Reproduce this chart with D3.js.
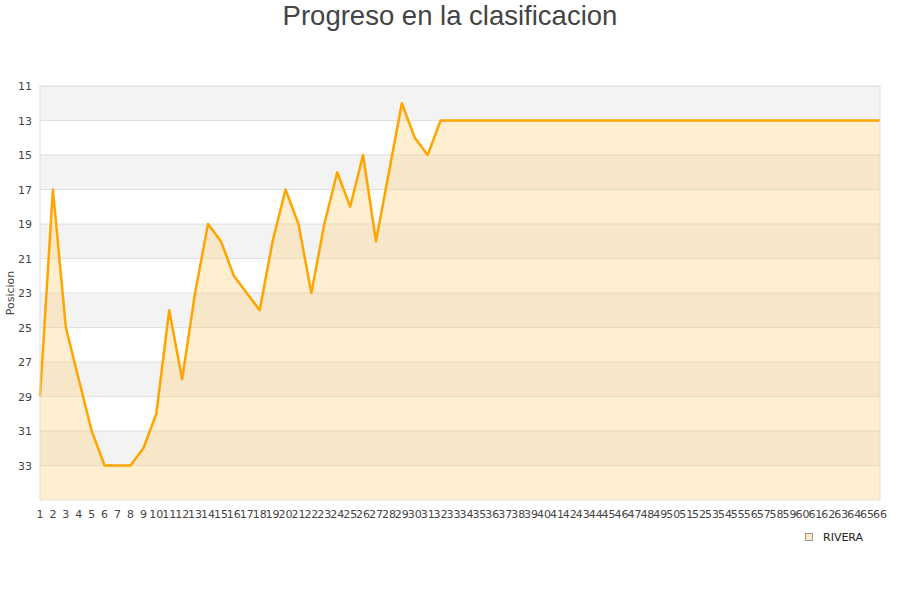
<!DOCTYPE html>
<html><head><meta charset="utf-8">
<script src="https://cdn.jsdelivr.net/npm/d3@7/dist/d3.min.js"></script>
<style>body{margin:0;background:#fff}svg{display:block}</style>
</head><body>
<svg id="c" width="900" height="600"></svg>
<script>
const title = "Progreso en la clasificacion";
const yLabel = "Posicion";
const seriesName = "RIVERA";
const jornadas = d3.range(1, 67);
const posiciones = [29,17,25,28,31,33,33,33,32,30,24,28,23,19,20,22,23,24,20,17,19,23,19,16,18,15,20,16,12,14,15,13,
  13,13,13,13,13,13,13,13,13,13,13,13,13,13,13,13,13,13,13,13,13,13,13,13,13,13,13,13,13,13,13,13,13,13];
const yTicks = [11,13,15,17,19,21,23,25,27,29,31,33];
const yDomain = [11,35];

const svg = d3.select("#c");
const m = {l:40, r:880, t:86, b:500};
const x = d3.scalePoint().domain(jornadas).range([m.l, m.r]);
const y = d3.scaleLinear().domain(yDomain).range([m.t, m.b]);

// bands
const bands = d3.range(yDomain[0], yDomain[1], 2);
svg.append("g").selectAll("rect").data(bands).join("rect")
  .attr("x", m.l).attr("width", m.r - m.l)
  .attr("y", d => y(d)).attr("height", d => y(d+2) - y(d))
  .attr("fill", (d,i) => i % 2 === 0 ? "#f3f3f3" : "#ffffff");
// grid lines
svg.append("g").selectAll("line").data(yTicks.slice(1)).join("line")
  .attr("x1", m.l).attr("x2", m.r).attr("y1", d => y(d)).attr("y2", d => y(d))
  .attr("stroke", "#e0e0e0").attr("stroke-width", 1);

const data = jornadas.map((j,i) => ({j, p: posiciones[i]}));
// area
svg.append("path").datum(data)
  .attr("d", d3.area().x(d => x(d.j)).y0(m.b).y1(d => y(d.p)))
  .attr("fill", "rgba(255,205,110,0.32)");
// line
svg.append("path").datum(data)
  .attr("d", d3.line().x(d => x(d.j)).y(d => y(d.p)))
  .attr("fill", "none").attr("stroke", "#ffa500").attr("stroke-width", 2.5)
  .attr("stroke-linejoin", "round");

// frame
svg.append("rect").attr("x", m.l).attr("y", m.t).attr("width", m.r-m.l).attr("height", m.b-m.t)
  .attr("fill", "none").attr("stroke", "#dddddd").attr("stroke-width", 1);

// y tick labels
svg.append("g").selectAll("text").data(yTicks).join("text")
  .attr("x", 32).attr("y", d => y(d) + 4).attr("text-anchor", "end")
  .attr("font-family", "DejaVu Sans").attr("font-size", 11).attr("fill", "#444")
  .text(d => d);
// x tick labels
svg.append("g").selectAll("text").data(jornadas).join("text")
  .attr("x", d => x(d)).attr("y", 518).attr("text-anchor", "middle")
  .attr("font-family", "DejaVu Sans").attr("font-size", 11).attr("fill", "#444")
  .text(d => d);

// y label
svg.append("text").attr("transform", "translate(14,293) rotate(-90)")
  .attr("text-anchor", "middle").attr("font-family", "DejaVu Sans").attr("font-size", 11)
  .attr("fill", "#444").text(yLabel);

// title
svg.append("text").attr("x", 450).attr("y", 25).attr("text-anchor", "middle")
  .attr("font-family", "Liberation Sans, Arial, sans-serif").attr("font-size", 27.5)
  .attr("fill", "#444").text(title);

// legend
svg.append("rect").attr("x", 805.5).attr("y", 533.5).attr("width", 7).attr("height", 7)
  .attr("fill", "#fde9c4").attr("stroke", "#999").attr("stroke-width", 1);
svg.append("text").attr("x", 823).attr("y", 541).attr("font-family", "DejaVu Sans")
  .attr("font-size", 11).attr("fill", "#222").text(seriesName);
</script>
</body></html>
